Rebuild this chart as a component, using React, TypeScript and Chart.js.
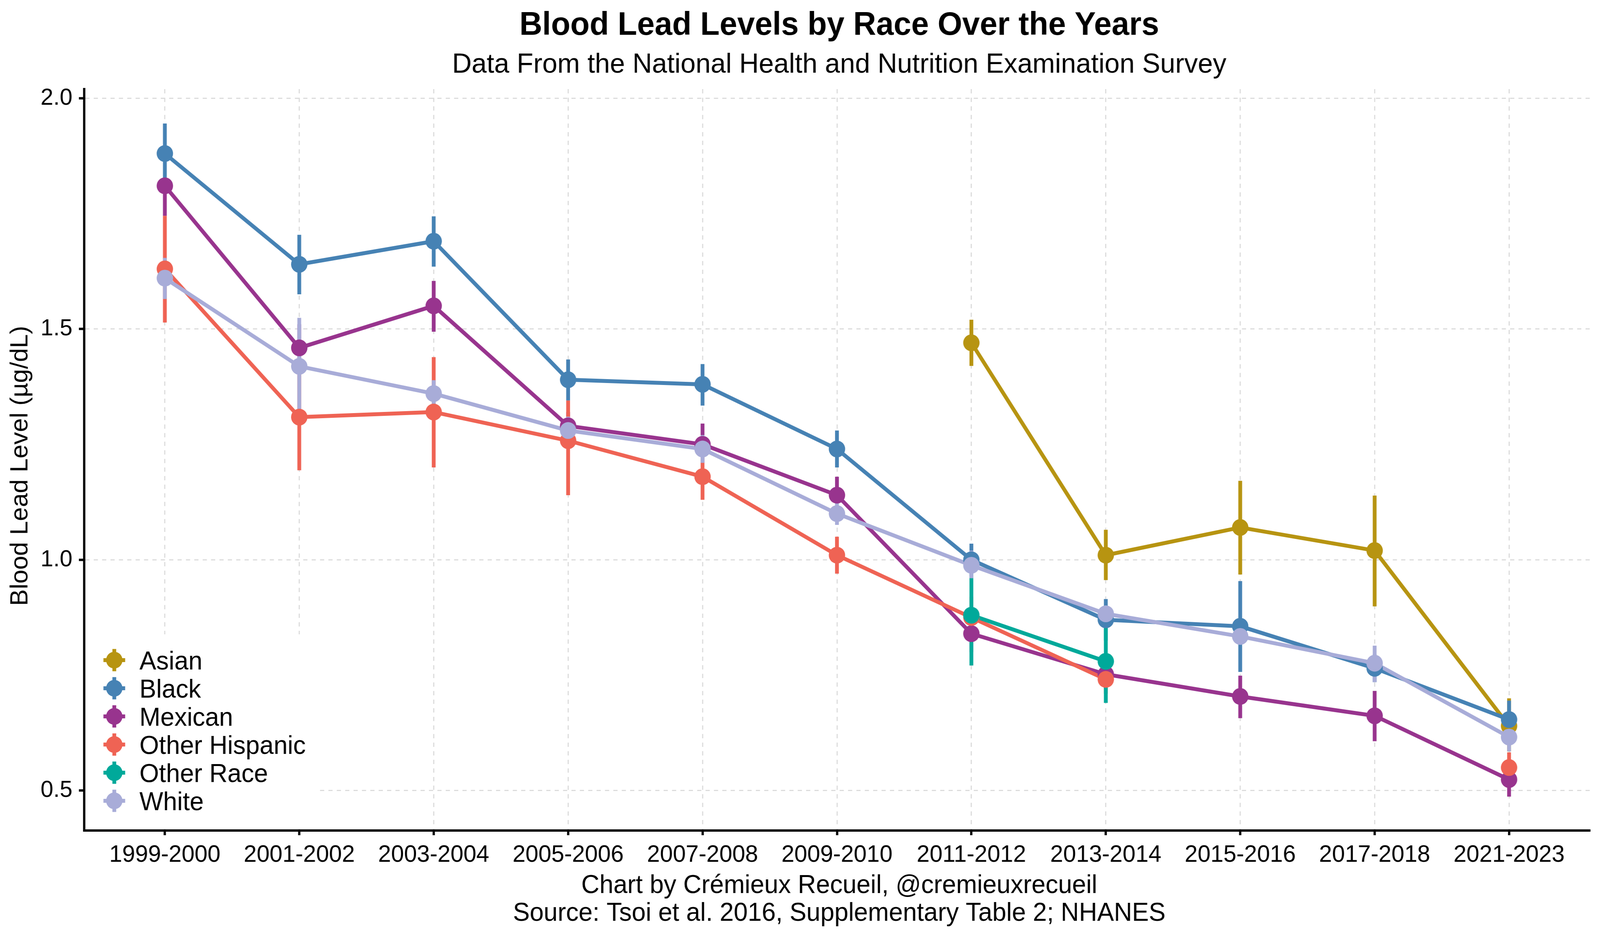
import React, { useEffect, useRef } from "react";
import { Chart, registerables } from "chart.js";

Chart.register(...registerables);

const FONT = "'Liberation Sans', Arial, Helvetica, sans-serif";

// ---------- data ----------
const periods = [
  "1999-2000", "2001-2002", "2003-2004", "2005-2006", "2007-2008", "2009-2010",
  "2011-2012", "2013-2014", "2015-2016", "2017-2018", "2021-2023",
];

const seriesNames = ["Asian", "Black", "Mexican", "Other Hispanic", "Other Race", "White"];
const seriesColors = ["#B79411", "#4682B4", "#98348E", "#EF6354", "#00A99A", "#A8ACD8"];

const asianMean = [null, null, null, null, null, null, 1.47, 1.01, 1.07, 1.02, 0.64];
const asianLow = [null, null, null, null, null, null, 1.42, 0.956, 0.968, 0.899, 0.585];
const asianHigh = [null, null, null, null, null, null, 1.52, 1.065, 1.171, 1.139, 0.70];

const blackMean = [1.88, 1.64, 1.69, 1.39, 1.38, 1.24, 1.0, 0.87, 0.856, 0.765, 0.654];
const blackLow = [1.815, 1.575, 1.635, 1.345, 1.334, 1.2, 0.965, 0.825, 0.757, 0.735, 0.61];
const blackHigh = [1.945, 1.704, 1.744, 1.434, 1.424, 1.28, 1.035, 0.915, 0.954, 0.795, 0.695];

const mexicanMean = [1.81, 1.459, 1.55, 1.29, 1.25, 1.14, 0.84, 0.752, 0.704, 0.662, 0.524];
const mexicanLow = [1.745, 1.41, 1.494, 1.26, 1.21, 1.1, 0.8, 0.72, 0.657, 0.607, 0.487];
const mexicanHigh = [1.825, 1.51, 1.604, 1.32, 1.295, 1.18, 0.88, 0.785, 0.749, 0.716, 0.56];

const otherHispanicMean = [1.63, 1.309, 1.32, 1.258, 1.18, 1.01, 0.875, 0.741, null, null, 0.55];
const otherHispanicLow = [1.514, 1.194, 1.2, 1.14, 1.13, 0.97, 0.83, 0.71, null, null, 0.52];
const otherHispanicHigh = [1.745, 1.42, 1.439, 1.345, 1.23, 1.05, 0.92, 0.775, null, null, 0.583];

const otherRaceMean = [null, null, null, null, null, null, 0.88, 0.78, null, null, null];
const otherRaceLow = [null, null, null, null, null, null, 0.771, 0.69, null, null, null];
const otherRaceHigh = [null, null, null, null, null, null, 0.99, 0.87, null, null, null];

const whiteMean = [1.61, 1.419, 1.36, 1.28, 1.24, 1.1, 0.988, 0.883, 0.834, 0.776, 0.616];
const whiteLow = [1.565, 1.316, 1.33, 1.25, 1.21, 1.0756, 0.96, 0.865, 0.82, 0.735, 0.585];
const whiteHigh = [1.654, 1.524, 1.389, 1.31, 1.27, 1.125, 1.02, 0.9, 0.85, 0.814, 0.65];

const yTicks = [0.5, 1.0, 1.5, 2.0];

const titleText = "Blood Lead Levels by Race Over the Years";
const subtitleText = "Data From the National Health and Nutrition Examination Survey";
const captionLines = [
  "Chart by Crémieux Recueil, @cremieuxrecueil",
  "Source: Tsoi et al. 2016, Supplementary Table 2; NHANES",
];
const yAxisTitle = "Blood Lead Level (µg/dL)";

const means = [asianMean, blackMean, mexicanMean, otherHispanicMean, otherRaceMean, whiteMean];
const lows = [asianLow, blackLow, mexicanLow, otherHispanicLow, otherRaceLow, whiteLow];
const highs = [asianHigh, blackHigh, mexicanHigh, otherHispanicHigh, otherRaceHigh, whiteHigh];

// ---------- layout constants (design coordinates 4200x2400) ----------
const W = 4200;
const H = 2400;
const POINT_R = 21.5;
const LINE_W = 10;

const textPlugin = {
  id: "textOverlay",
  afterDraw(chart: any) {
    const ctx = chart.ctx;
    const area = chart.chartArea;
    const cx = (area.left + area.right) / 2 + 6;
    ctx.save();
    ctx.fillStyle = "#000";
    ctx.textAlign = "center";
    ctx.textBaseline = "alphabetic";
    ctx.font = `bold 83px ${FONT}`;
    ctx.fillText(titleText, cx, 89);
    ctx.font = `71px ${FONT}`;
    ctx.fillText(subtitleText, cx, 186);
    ctx.font = `66px ${FONT}`;
    ctx.fillText(captionLines[0], cx, 2285);
    ctx.fillText(captionLines[1], cx, 2356);

    // y-axis title
    ctx.save();
    ctx.translate(54.5, 1192);
    ctx.rotate(-Math.PI / 2);
    ctx.textBaseline = "middle";
    ctx.font = `64px ${FONT}`;
    ctx.fillText(yAxisTitle, 0, 0);
    ctx.restore();

    // legend box (inside plot, bottom-left)
    ctx.fillStyle = "#fff";
    ctx.fillRect(area.left + 3, 1623, 837 - area.left - 3, area.bottom - 1623 - 4);
    const rowY0 = 1689;
    const rowStep = 72;
    const mx = 300;
    seriesNames.forEach((name, i) => {
      const y = rowY0 + i * rowStep;
      const c = seriesColors[i];
      ctx.strokeStyle = c;
      ctx.lineWidth = LINE_W;
      ctx.lineCap = "butt";
      ctx.beginPath();
      ctx.moveTo(mx - 28.5, y);
      ctx.lineTo(mx + 28.5, y);
      ctx.moveTo(mx, y - 28.5);
      ctx.lineTo(mx, y + 28.5);
      ctx.stroke();
      ctx.fillStyle = c;
      ctx.beginPath();
      ctx.arc(mx, y, POINT_R, 0, Math.PI * 2);
      ctx.fill();
      ctx.fillStyle = "#000";
      ctx.textAlign = "left";
      ctx.textBaseline = "alphabetic";
      ctx.font = `66px ${FONT}`;
      ctx.fillText(name, 366, y + 23.6);
    });
    ctx.restore();
  },
};

function buildDatasets() {
  const ds: any[] = [];
  seriesNames.forEach((name, i) => {
    ds.push({
      label: name + " line",
      data: periods.map((_, j) => ({ x: j, y: means[i][j] })),
      borderColor: seriesColors[i],
      backgroundColor: seriesColors[i],
      borderWidth: LINE_W,
      borderJoinStyle: "round",
      borderCapStyle: "butt",
      pointRadius: 0,
      pointHoverRadius: 0,
      tension: 0,
      spanGaps: false,
      order: 300 - i,
    });
  });
  seriesNames.forEach((name, i) => {
    const pts: any[] = [];
    periods.forEach((_, j) => {
      if (lows[i][j] == null || highs[i][j] == null) return;
      pts.push({ x: j, y: lows[i][j] });
      pts.push({ x: j, y: highs[i][j] });
      pts.push({ x: j, y: null });
    });
    ds.push({
      label: name + " range",
      data: pts,
      borderColor: seriesColors[i],
      borderWidth: LINE_W,
      borderCapStyle: "butt",
      pointRadius: 0,
      pointHoverRadius: 0,
      spanGaps: false,
      order: 200 - i,
    });
  });
  seriesNames.forEach((name, i) => {
    ds.push({
      label: name,
      data: periods.map((_, j) => ({ x: j, y: means[i][j] })),
      showLine: false,
      borderColor: seriesColors[i],
      backgroundColor: seriesColors[i],
      pointBackgroundColor: seriesColors[i],
      pointBorderWidth: 0,
      pointRadius: POINT_R,
      pointHoverRadius: POINT_R,
      order: 100 - i,
    });
  });
  return ds;
}

export default function App() {
  const canvasRef = useRef<HTMLCanvasElement | null>(null);
  const vw = typeof window !== "undefined" ? window.innerWidth : W;
  const vh = typeof window !== "undefined" ? window.innerHeight : H;

  useEffect(() => {
    if (!canvasRef.current) return;
    document.body.style.margin = "0";
    document.body.style.overflow = "hidden";
    const chart = new Chart(canvasRef.current, {
      type: "line",
      data: { datasets: buildDatasets() },
      plugins: [textPlugin],
      options: {
        responsive: false,
        maintainAspectRatio: false,
        animation: false,
        devicePixelRatio: 1,
        events: [],
        layout: { padding: { left: 0, top: 228, right: 27, bottom: 0 } },
        plugins: {
          legend: { display: false },
          title: { display: false },
          tooltip: { enabled: false },
        },
        scales: {
          x: {
            type: "linear",
            min: -0.6,
            max: 10.6,
            afterBuildTicks: (s: any) => {
              s.ticks = periods.map((_, j) => ({ value: j }));
            },
            afterFit: (s: any) => {
              s.height = 275;
            },
            ticks: {
              autoSkip: false,
              maxRotation: 0,
              minRotation: 0,
              padding: 15,
              color: "#000",
              font: { family: FONT, size: 61 },
              callback: (v: any) => periods[Math.round(Number(v))] ?? "",
            },
            grid: {
              color: "#DCDCDC",
              lineWidth: 3,
              drawTicks: true,
              tickLength: 12,
              tickWidth: 6,
              tickColor: "#000",
              tickBorderDash: [],
            },
            border: { display: true, color: "#000", width: 6, dash: [11, 11] },
          },
          y: {
            type: "linear",
            min: 0.4136,
            max: 2.0195,
            afterBuildTicks: (s: any) => {
              s.ticks = yTicks.map((v) => ({ value: v }));
            },
            afterFit: (s: any) => {
              s.width = 221;
            },
            ticks: {
              padding: 17,
              color: "#000",
              font: { family: FONT, size: 60 },
              callback: (v: any) => Number(v).toFixed(1),
            },
            grid: {
              color: "#DCDCDC",
              lineWidth: 3,
              drawTicks: true,
              tickLength: 14,
              tickWidth: 6,
              tickColor: "#000",
              tickBorderDash: [],
            },
            border: { display: true, color: "#000", width: 6, dash: [11, 11] },
            title: { display: false },
          },
        },
      } as any,
    });
    return () => chart.destroy();
  }, []);

  return (
    <div
      style={{
        position: "fixed",
        left: 0,
        top: 0,
        width: vw,
        height: vh,
        overflow: "hidden",
        background: "#fff",
      }}
    >
      <canvas
        ref={canvasRef}
        width={W}
        height={H}
        style={{ display: "block", width: `${vw}px`, height: `${vh}px` }}
      />
    </div>
  );
}
